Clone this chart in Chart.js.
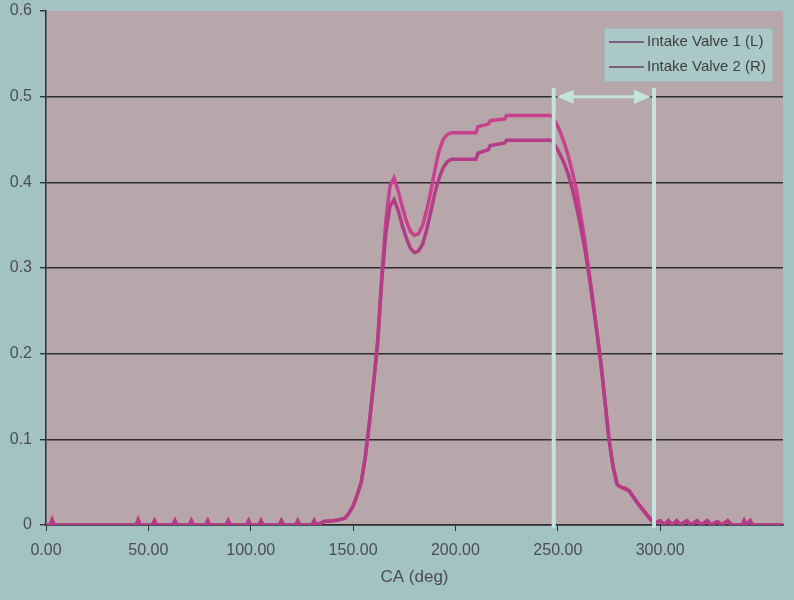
<!DOCTYPE html>
<html>
<head>
<meta charset="utf-8">
<script src="https://cdn.jsdelivr.net/npm/chart.js@4.4.0/dist/chart.umd.min.js"></script>
<style>
  html, body { margin: 0; padding: 0; background: #a3c2c3; }
  #wrap { width: 794px; height: 600px; }
</style>
</head>
<body>
<div id="wrap"><canvas id="ValveChart"></canvas></div>
<script>
// crank angle (deg)
const angles = [
  0, 2, 3, 4,
  44, 45, 46, 52, 53, 54, 62, 63, 64, 70, 71, 72, 78, 79, 80, 88, 89, 90,
  98, 99, 100, 104, 105, 106, 114, 115, 116, 122, 123, 124, 130, 131, 132,
  136, 140, 143,
  146, 148, 150, 152, 154, 156, 158, 160, 162, 164, 166, 168, 170, 172, 174,
  176, 178, 180, 182, 184, 186, 188, 190, 192, 194, 196, 198,
  210, 211, 216, 217, 224, 225, 247,
  249, 251, 253, 255, 257, 259, 261, 263, 265, 267, 269, 271, 273, 275, 277,
  279, 281, 283, 285, 287, 289, 291, 293, 295, 297,
  300, 302, 304, 306, 308, 310, 313, 315, 318, 320, 323, 325, 328, 330, 333,
  335, 340, 341, 342, 344, 345, 360
];

// Intake Valve 1 (L)
const valveL = [
  0, 0, 0.006, 0,
  0, 0.006, 0, 0, 0.005, 0, 0, 0.005, 0, 0, 0.005, 0, 0, 0.005, 0, 0, 0.005, 0,
  0, 0.005, 0, 0, 0.005, 0, 0, 0.005, 0, 0, 0.005, 0, 0, 0.005, 0,
  0.004, 0.005, 0.006,
  0.008, 0.014, 0.022, 0.035, 0.05, 0.08, 0.12, 0.165, 0.212, 0.285, 0.34, 0.372, 0.38, 0.367, 0.35,
  0.335, 0.323, 0.318, 0.32, 0.328, 0.345, 0.366, 0.388, 0.405, 0.417, 0.424, 0.427,
  0.427, 0.434, 0.438, 0.443, 0.446, 0.449, 0.449,
  0.442, 0.433, 0.423, 0.41, 0.393, 0.373, 0.35, 0.325, 0.295, 0.262, 0.226, 0.19, 0.145, 0.10, 0.068,
  0.047, 0.044, 0.042, 0.039, 0.032, 0.025, 0.019, 0.013, 0.007, 0.002,
  0.005, 0, 0.005, 0, 0.005, 0, 0.005, 0, 0.005, 0, 0.005, 0, 0.004, 0, 0.005,
  0, 0, 0.005, 0, 0.005, 0, 0
];

// Intake Valve 2 (R)
const valveR = [
  0, 0, 0.006, 0,
  0, 0.006, 0, 0, 0.005, 0, 0, 0.005, 0, 0, 0.005, 0, 0, 0.005, 0, 0, 0.005, 0,
  0, 0.005, 0, 0, 0.005, 0, 0, 0.005, 0, 0, 0.005, 0, 0, 0.005, 0,
  0.004, 0.005, 0.006,
  0.008, 0.014, 0.022, 0.035, 0.05, 0.08, 0.12, 0.165, 0.215, 0.29, 0.355, 0.395, 0.405, 0.39, 0.372,
  0.355, 0.343, 0.338, 0.34, 0.35, 0.368, 0.39, 0.415, 0.437, 0.45, 0.456, 0.458,
  0.458, 0.465, 0.468, 0.472, 0.474, 0.478, 0.478,
  0.47, 0.46, 0.447, 0.432, 0.413, 0.392, 0.365, 0.335, 0.30, 0.265, 0.228, 0.19, 0.145, 0.10, 0.068,
  0.047, 0.044, 0.043, 0.04, 0.033, 0.026, 0.02, 0.014, 0.008, 0.002,
  0.005, 0, 0.005, 0, 0.005, 0, 0.005, 0, 0.005, 0, 0.005, 0, 0.004, 0, 0.005,
  0, 0, 0.005, 0, 0.005, 0, 0
];

const seriesNames = ['Intake Valve 1 (L)', 'Intake Valve 2 (R)'];
const seriesColors = ['#b23d86', '#c9418e'];

// the two light marker lines and the double arrow between them
const markerAngles = [248, 297];
const markerTop = 0.51;
const arrowLevel = 0.5;

const FONT = '"Liberation Sans", Arial, sans-serif';
const TEXT = '#4d4d4d';

const bgPlugin = {
  id: 'bgPlugin',
  beforeDraw(chart) {
    const c = chart.ctx, a = chart.chartArea;
    c.save();
    c.fillStyle = '#a3c2c3';
    c.fillRect(0, 0, chart.width, chart.height);
    c.fillStyle = '#b7a6aa';
    c.fillRect(a.left, a.top, a.right - a.left, a.bottom - a.top);
    c.restore();
  }
};

const markerPlugin = {
  id: 'markerPlugin',
  afterDatasetsDraw(chart) {
    const c = chart.ctx, xs = chart.scales.x, ys = chart.scales.y;
    const x1 = xs.getPixelForValue(markerAngles[0]);
    const x2 = xs.getPixelForValue(markerAngles[1]);
    const top = ys.getPixelForValue(markerTop);
    const bottom = ys.getPixelForValue(0) + 3;
    const ay = ys.getPixelForValue(arrowLevel);
    c.save();
    c.strokeStyle = '#c4e3dd';
    c.fillStyle = '#c4e3dd';
    c.lineWidth = 4;
    [x1, x2].forEach(x => {
      c.beginPath();
      c.moveTo(x, top);
      c.lineTo(x, bottom);
      c.stroke();
    });
    c.lineWidth = 3;
    c.beginPath();
    c.moveTo(x1 + 14, ay);
    c.lineTo(x2 - 14, ay);
    c.stroke();
    // arrow heads
    c.beginPath();
    c.moveTo(x1 + 3, ay);
    c.lineTo(x1 + 20, ay - 7);
    c.lineTo(x1 + 20, ay + 7);
    c.closePath();
    c.fill();
    c.beginPath();
    c.moveTo(x2 - 3, ay);
    c.lineTo(x2 - 20, ay - 7);
    c.lineTo(x2 - 20, ay + 7);
    c.closePath();
    c.fill();
    c.restore();
  }
};

// Excel-like legend box in the top right corner of the plot
const legendPlugin = {
  id: 'legendPlugin',
  afterDraw(chart) {
    const c = chart.ctx, a = chart.chartArea;
    const w = 168, h = 53;
    const left = a.right - 11 - w, top = a.top + 17;
    c.save();
    c.fillStyle = '#a9c8c6';
    c.fillRect(left, top, w, h);
    c.strokeStyle = '#9fb9b8';
    c.lineWidth = 1;
    c.strokeRect(left + 0.5, top + 0.5, w, h);
    c.font = '15px ' + FONT;
    c.textBaseline = 'middle';
    c.fillStyle = '#3f3f3f';
    chart.data.datasets.forEach((ds, i) => {
      const y = top + 14 + i * 25;
      c.strokeStyle = '#6f3a68';
      c.lineWidth = 1.5;
      c.beginPath();
      c.moveTo(left + 5, y);
      c.lineTo(left + 40, y);
      c.stroke();
      c.fillText(ds.label, left + 43, y);
    });
    c.restore();
  }
};

const ctx = document.getElementById('ValveChart');

const ValveChart = new Chart(ctx, {
  type: 'line',
  data: {
    datasets: seriesNames.map((name, i) => ({
      label: name,
      data: angles.map((a, j) => ({ x: a, y: (i === 0 ? valveL : valveR)[j] })),
      borderColor: seriesColors[i],
      backgroundColor: seriesColors[i],
      borderWidth: 3.5,
      pointRadius: 0,
      tension: 0
    }))
  },
  options: {
    responsive: true,
    maintainAspectRatio: false,
    animation: false,
    layout: { padding: { top: 11, right: 11, left: 0, bottom: 0 } },
    plugins: {
      legend: { display: false },
      tooltip: { enabled: false }
    },
    scales: {
      x: {
        type: 'linear',
        min: 0,
        max: 360,
        afterBuildTicks: s => { s.ticks = s.ticks.filter(t => t.value % 50 === 0); },
        afterFit: s => { s.height = 75; },
        ticks: {
          stepSize: 50,
          maxRotation: 0,
          padding: 10,
          color: TEXT,
          font: { family: FONT, size: 16 },
          callback: v => Number(v).toFixed(2)
        },
        grid: { drawOnChartArea: false, drawTicks: true, tickLength: 6, tickColor: '#333' },
        border: { color: '#2e2e2e', width: 1.5 },
        title: {
          display: true,
          text: 'CA (deg)',
          color: TEXT,
          font: { family: FONT, size: 17 },
          padding: { top: 4, bottom: 12 }
        }
      },
      y: {
        min: 0,
        max: 0.6,
        afterFit: s => { s.width = 46; s.paddingTop = 0; s.paddingBottom = 0; },
        ticks: {
          stepSize: 0.1,
          padding: 8,
          color: TEXT,
          font: { family: FONT, size: 16 },
          callback: v => String(Math.round(v * 10) / 10)
        },
        grid: {
          color: c => (c.tick && c.tick.value >= 0.6 ? 'rgba(0,0,0,0)' : '#2e2e2e'),
          lineWidth: 1.4,
          tickLength: 6,
          tickColor: '#333'
        },
        border: { color: '#2e2e2e', width: 1.5 }
      }
    }
  },
  plugins: [bgPlugin, markerPlugin, legendPlugin]
});
</script>
</body>
</html>
